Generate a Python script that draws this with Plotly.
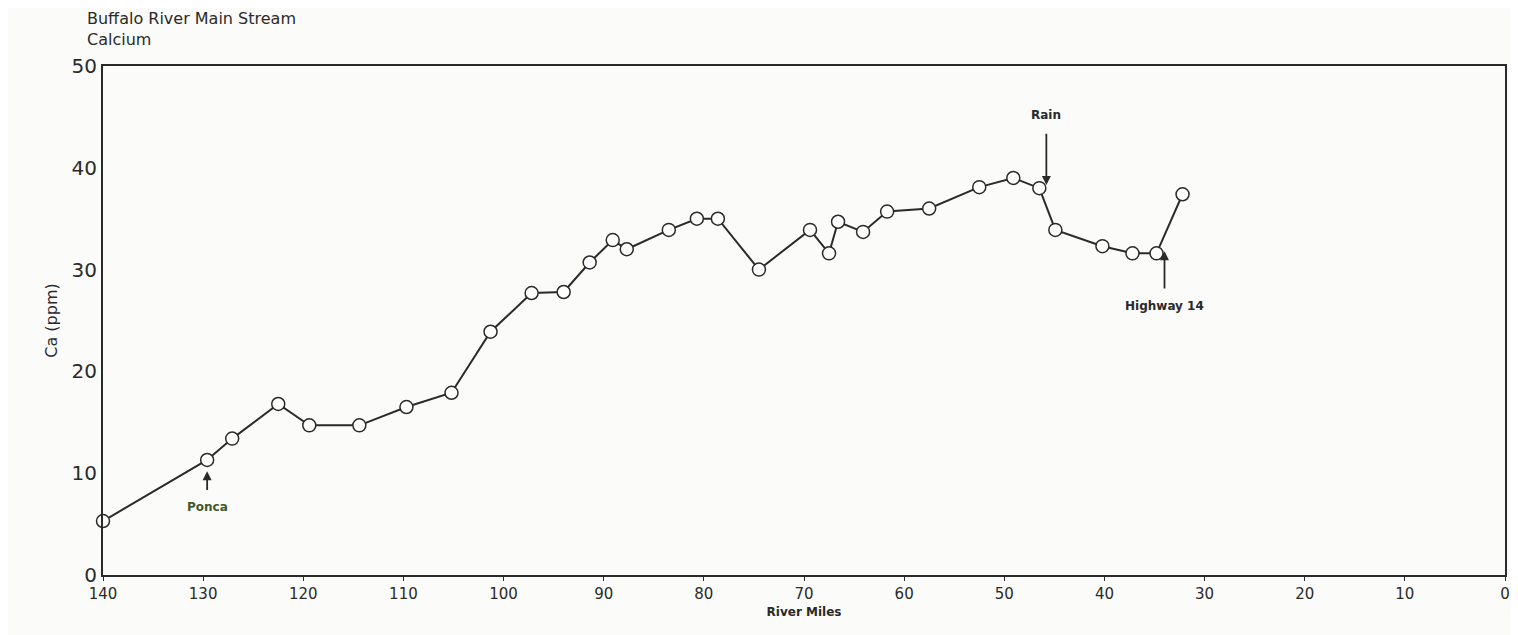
import plotly.graph_objects as go

# River miles (upstream -> downstream) and calcium concentration (ppm)
miles = [140, 129.6, 127.1, 122.5, 119.4, 114.4, 109.7, 105.2, 101.3, 97.2,
         94.0, 91.4, 89.1, 87.7, 83.5, 80.7, 78.6, 74.5, 69.4, 67.5,
         66.6, 64.1, 61.7, 57.5, 52.5, 49.1, 46.5, 44.9, 40.2, 37.2,
         34.8, 32.2]
calcium = [5.3, 11.3, 13.4, 16.8, 14.7, 14.7, 16.5, 17.9, 23.9, 27.7,
           27.8, 30.7, 32.9, 32.0, 33.9, 35.0, 35.0, 30.0, 33.9, 31.6,
           34.7, 33.7, 35.7, 36.0, 38.1, 39.0, 38.0, 33.9, 32.3, 31.6,
           31.6, 37.4]

x_ticks = [140, 130, 120, 110, 100, 90, 80, 70, 60, 50, 40, 30, 20, 10, 0]
y_ticks = [0, 10, 20, 30, 40, 50]

ink = "#2a2a2a"

fig = go.Figure()
fig.add_trace(go.Scatter(
    x=miles, y=calcium, mode="lines+markers",
    line=dict(color=ink, width=2),
    marker=dict(size=13, color="white", line=dict(color=ink, width=1.5)),
    showlegend=False,
    cliponaxis=False,
))

arrow = dict(xref="x", yref="y", axref="x", ayref="y", showarrow=True,
             arrowhead=2, arrowsize=1, arrowwidth=1.8, arrowcolor=ink,
             font=dict(size=12, color=ink, family="DejaVu Sans"))
fig.add_annotation(x=129.6, y=10.2, ax=129.6, ay=8.2, text="", **arrow)
fig.add_annotation(x=129.6, y=7.6, text="<b>Ponca</b>", showarrow=False,
                   xref="x", yref="y", yanchor="top",
                   font=dict(size=12, color="#3f5a2a", family="DejaVu Sans"))
fig.add_annotation(x=45.8, y=38.3, ax=45.8, ay=43.5, text="", **arrow)
fig.add_annotation(x=45.8, y=44.3, text="<b>Rain</b>", showarrow=False,
                   xref="x", yref="y", yanchor="bottom",
                   font=dict(size=12, color=ink, family="DejaVu Sans"))
fig.add_annotation(x=34.0, y=31.8, ax=34.0, ay=28.0, text="", **arrow)
fig.add_annotation(x=34.0, y=27.3, text="<b>Highway 14</b>", showarrow=False,
                   xref="x", yref="y", yanchor="top",
                   font=dict(size=12, color=ink, family="DejaVu Sans"))

fig.add_annotation(x=-0.013, y=1.03, xref="paper", yref="paper",
                   xanchor="left", yanchor="bottom", align="left",
                   showarrow=False,
                   text="Buffalo River Main Stream<br>Calcium",
                   font=dict(size=16, color=ink, family="DejaVu Sans"))

fig.update_xaxes(range=[140, 0], tickvals=x_ticks, ticks="outside",
                 ticklen=4, tickcolor=ink, showgrid=False, zeroline=False,
                 showline=True, linecolor=ink, linewidth=2, mirror=True,
                 tickfont=dict(size=15, color=ink),
                 title=dict(text="<b>River Miles</b>", font=dict(size=12, color=ink),
                            standoff=6))
fig.update_yaxes(range=[0, 50], tickvals=y_ticks, ticks="", showgrid=False,
                 zeroline=False, showline=True, linecolor=ink, linewidth=2,
                 mirror=True, tickfont=dict(size=20, color=ink),
                 title=dict(text="Ca (ppm)", font=dict(size=16, color=ink),
                            standoff=10))

fig.update_layout(
    width=1510, height=627,
    margin=dict(l=95, r=8, t=58, b=60),
    paper_bgcolor="#fbfbf9", plot_bgcolor="#fbfbf9",
    font=dict(family="DejaVu Sans", color=ink),
)

fig.write_html("out.html")
